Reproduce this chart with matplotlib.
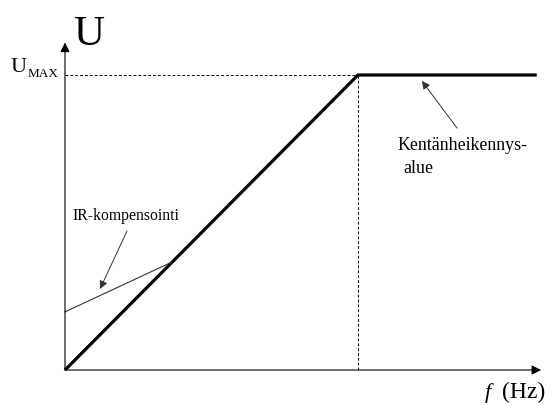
#!/usr/bin/env python3

import matplotlib
matplotlib.use("Agg")
import matplotlib.pyplot as plt

# normalised V/f curve: f in units of the knee frequency, U in units of U_MAX
f_curve = [0.0, 1.0, 1.61]
u_curve = [0.0, 1.0, 1.0]

# IR compensation segment
f_ir = [0.0, 0.365]
u_ir = [0.197, 0.366]

u_max = 1.0
f_knee = 1.0

plt.rcParams['font.family'] = ['Liberation Serif', 'DejaVu Serif']

fig = plt.figure(figsize=(5.53, 4.05), dpi=100)
ax = fig.add_axes([0, 0, 1, 1])
ax.set_xlim(-0.2218, 1.6655)
ax.set_ylim(-0.1186, 1.2542)
ax.axis('off')

# axes with arrows
ax.annotate('', xy=(1.625, 0), xytext=(0, 0),
            arrowprops=dict(arrowstyle='-|>', color='black', lw=0.8,
                            mutation_scale=14, shrinkA=0, shrinkB=0))
ax.annotate('', xy=(0, 1.11), xytext=(0, 0),
            arrowprops=dict(arrowstyle='-|>', color='black', lw=0.8,
                            mutation_scale=14, shrinkA=0, shrinkB=0))

# dashed guide lines
ax.plot([0, f_knee], [u_max, u_max], color='black', lw=0.7, ls=(0, (3, 2)))
ax.plot([f_knee, f_knee], [0, u_max], color='black', lw=0.7, ls=(0, (3, 2)))

# main curve
ax.plot(f_curve, u_curve, color='black', lw=2.3, solid_capstyle='butt')
ax.plot(f_ir, u_ir, color='#333333', lw=0.8)

# axis labels
ax.text(0.082, 1.1017, 'U', fontsize=31, ha='center', va='baseline')
ax.text(-0.185, 1.0102, 'U', fontsize=16, ha='left', va='baseline')
ax.text(-0.127, 0.9932, 'MAX', fontsize=9.5, ha='left', va='baseline')
ax.text(1.4334, -0.0949, 'f', fontsize=16, style='italic', ha='left', va='baseline')
ax.text(1.49, -0.0949, '(Hz)', fontsize=17, ha='left', va='baseline')

# annotations
ax.text(0.0239, 0.508, 'IR-kompensointi', fontsize=11.3, ha='left', va='baseline')
ax.annotate('', xy=(0.1195, 0.2746), xytext=(0.2116, 0.471),
            arrowprops=dict(arrowstyle='-|>', color='#333333', lw=0.7,
                            mutation_scale=12, shrinkA=0, shrinkB=0))
ax.text(1.1365, 0.7458, 'Kentänheikennys-', fontsize=12.9, ha='left', va='baseline')
ax.text(1.1536, 0.668, 'alue', fontsize=12.9, ha='left', va='baseline')
ax.annotate('', xy=(1.218, 0.98), xytext=(1.338, 0.82),
            arrowprops=dict(arrowstyle='-|>', color='#333333', lw=0.7,
                            mutation_scale=12, shrinkA=0, shrinkB=0))

fig.savefig('out.png', dpi=100)
